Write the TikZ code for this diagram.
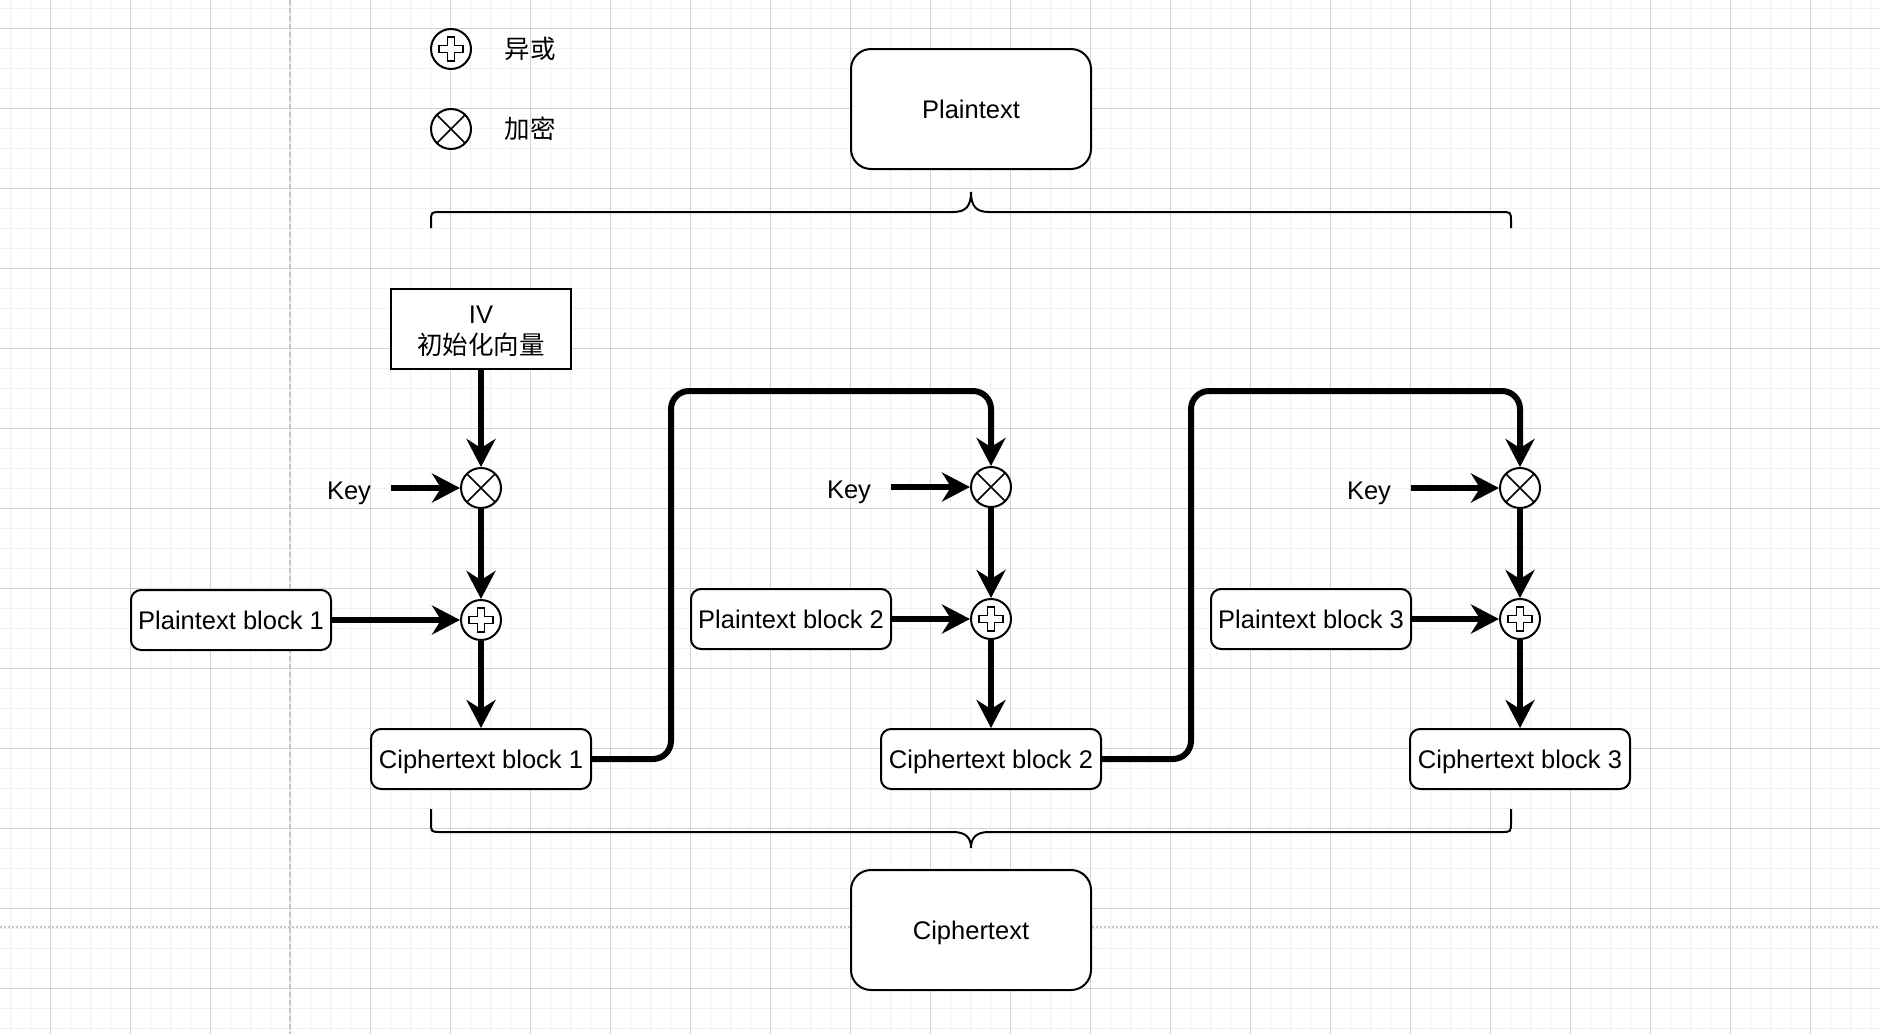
\documentclass[tikz,border=0pt]{standalone}
\usepackage{fontspec}
\setmainfont{Liberation Sans}
\newfontfamily\cjk{Noto Sans CJK SC}
\usetikzlibrary{arrows.meta}
\definecolor{gridminor}{HTML}{F1F1F1}
\definecolor{gridmajor}{HTML}{D3D3D3}
\definecolor{guide}{HTML}{C4C4C4}
\begin{document}
\begin{tikzpicture}[x=0.5pt,y=-0.5pt,
  every node/.style={font=\fontsize{12.75pt}{15.5pt}\selectfont},
  capc/.style={text height=9.1pt, text depth=0pt},
  minorline/.style={gridminor, line width=0.5pt},
  majorline/.style={gridmajor, line width=0.5pt},
  blk/.style={draw, line width=1pt, rounded corners=5pt, fill=white, minimum height=30pt, inner sep=0pt, capc},
  bigbox/.style={draw, line width=1pt, rounded corners=10pt, fill=white, minimum width=120pt, minimum height=60pt, inner sep=0pt, capc},
  ivbox/.style={draw, line width=1pt, fill=white, minimum width=90pt, minimum height=40pt, inner sep=0pt, align=center},
  keytxt/.style={minimum width=42pt, inner sep=0pt, capc},
  xorc/.style={circle, draw, line width=1pt, fill=white, minimum size=20pt, inner sep=0pt,
    path picture={\draw[line width=0.8pt, shift={(path picture bounding box.center)}]
      (-6pt,1.75pt) -- (-1.75pt,1.75pt) -- (-1.75pt,6pt) -- (1.75pt,6pt) -- (1.75pt,1.75pt) -- (6pt,1.75pt)
      -- (6pt,-1.75pt) -- (1.75pt,-1.75pt) -- (1.75pt,-6pt) -- (-1.75pt,-6pt) -- (-1.75pt,-1.75pt) -- (-6pt,-1.75pt) -- cycle;}},
  encc/.style={circle, draw, line width=1pt, fill=white, minimum size=20pt, inner sep=0pt,
    path picture={\draw[line width=0.8pt]
      (path picture bounding box.north west) -- (path picture bounding box.south east)
      (path picture bounding box.north east) -- (path picture bounding box.south west);}},
  flow/.style={line width=3pt, -{Stealth[length=14pt,width=14.5pt,inset=4.5pt]}},
  bracepath/.style={line width=1pt}
]
\useasboundingbox (0,0) rectangle (1880,1034);
\fill[white] (0,0) rectangle (1880,1034);
% grid
\foreach \x in {10,30,...,1870} \draw[minorline] (\x,0) -- (\x,1034);
\foreach \y in {8,28,...,1028} \draw[minorline] (0,\y) -- (1880,\y);
\foreach \x in {50,130,...,1810} \draw[majorline] (\x,0) -- (\x,1034);
\foreach \y in {28,108,...,988} \draw[majorline] (0,\y) -- (1880,\y);
% guide lines
\draw[guide, line width=0.75pt, dash pattern=on 2.5pt off 1.5pt] (290,0) -- (290,1034);
\draw[guide, line width=0.75pt, dash pattern=on 1pt off 1pt] (0,927) -- (1880,927);

% legend
\node[xorc] (lx) at (451,49) {};
\node[encc] (le) at (451,129) {};
\node (lxt) at (530,49) {\cjk 异或};
\node (let) at (530,129) {\cjk 加密};

% big boxes
\node[bigbox] (pt) at (971,109) {Plaintext};
\node[bigbox] (ct) at (971,930) {Ciphertext};

% braces
\draw[bracepath] (431,228) -- (431,222) .. controls (431,212) .. (441,212) -- (953,212)
  .. controls (966,212) and (971,206) .. (971,192) .. controls (971,206) and (976,212) .. (989,212)
  -- (1501,212) .. controls (1511,212) .. (1511,222) -- (1511,228);
\draw[bracepath] (431,809) -- (431,822) .. controls (431,832) .. (441,832) -- (953,832)
  .. controls (966,832) and (971,838) .. (971,848) .. controls (971,838) and (976,832) .. (989,832)
  -- (1501,832) .. controls (1511,832) .. (1511,822) -- (1511,809);

% column 1
\node[ivbox] (iv) at (481,329) {\rule{0pt}{11.5pt}IV\\{\cjk 初始化向量}};
\node[encc] (x1) at (481,488) {};
\node[xorc] (p1) at (481,620) {};
\node[keytxt] (k1) at (349,490) {Key};
\node[blk, minimum width=100pt] (pb1) at (231,620) {Plaintext block 1};
\node[blk, minimum width=110pt] (cb1) at (481,759) {Ciphertext block 1};

% column 2
\node[encc] (x2) at (991,487) {};
\node[xorc] (p2) at (991,619) {};
\node[keytxt] (k2) at (849,489) {Key};
\node[blk, minimum width=100pt] (pb2) at (791,619) {Plaintext block 2};
\node[blk, minimum width=110pt] (cb2) at (991,759) {Ciphertext block 2};

% column 3
\node[encc] (x3) at (1520,488) {};
\node[xorc] (p3) at (1520,619) {};
\node[keytxt] (k3) at (1369,490) {Key};
\node[blk, minimum width=100pt] (pb3) at (1311,619) {Plaintext block 3};
\node[blk, minimum width=110pt] (cb3) at (1520,759) {Ciphertext block 3};

\coordinate (c1) at (671,391);
\coordinate (c2) at (1191,391);

% connectors
\draw[flow] (iv.south) -- (x1.north);
\draw[flow] (k1.east |- x1.west) -- (x1.west);
\draw[flow] (x1.south) -- (p1.north);
\draw[flow] (pb1.east) -- (p1.west);
\draw[flow] (p1.south) -- (cb1.north);

\draw[flow, rounded corners=9pt] (cb1.east) -| (c1) -| (x2.north);
\draw[flow] (k2.east |- x2.west) -- (x2.west);
\draw[flow] (x2.south) -- (p2.north);
\draw[flow] (pb2.east) -- (p2.west);
\draw[flow] (p2.south) -- (cb2.north);

\draw[flow, rounded corners=9pt] (cb2.east) -| (c2) -| (x3.north);
\draw[flow] (k3.east |- x3.west) -- (x3.west);
\draw[flow] (x3.south) -- (p3.north);
\draw[flow] (pb3.east) -- (p3.west);
\draw[flow] (p3.south) -- (cb3.north);
\end{tikzpicture}
\end{document}
